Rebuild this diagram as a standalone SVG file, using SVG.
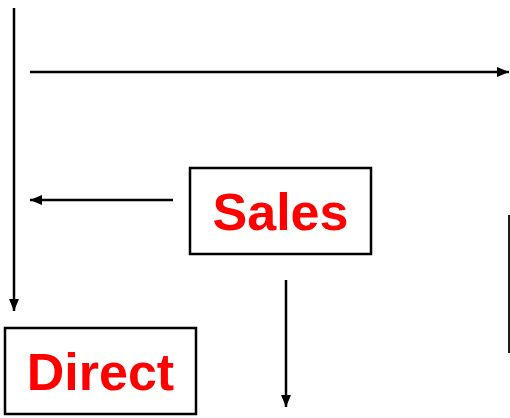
<svg xmlns="http://www.w3.org/2000/svg" width="510" height="418" viewBox="0 0 510 418">
<defs>
<style>
.ln{stroke:#000;stroke-width:2.5;fill:none}
.box{fill:#fff;stroke:#000;stroke-width:2.5}
.lbl{font-family:"Liberation Sans",Arial,sans-serif;font-weight:bold;font-size:52px;fill:#f00;text-anchor:middle}
</style>
<marker id="ah" viewBox="0 0 12 10" refX="12" refY="5" markerWidth="12" markerHeight="10" markerUnits="userSpaceOnUse" orient="auto">
<path d="M0,0 L12,5 L0,10 z" fill="#000"/>
</marker>
</defs>
<g id="connectors">
<line class="ln" x1="14" y1="8" x2="14" y2="311" marker-end="url(#ah)"/>
<line class="ln" x1="30" y1="72" x2="509" y2="72" marker-end="url(#ah)"/>
<line class="ln" x1="173" y1="200" x2="30" y2="200" marker-end="url(#ah)"/>
<line class="ln" x1="286" y1="280" x2="286" y2="407" marker-end="url(#ah)"/>
<line x1="509" y1="215" x2="509" y2="353" stroke="#000" stroke-width="1.8"/>
</g>
<g id="sales">
<rect class="box" x="190" y="168" width="181" height="86"/>
<text class="lbl" x="280.5" y="230">Sales</text>
</g>
<g id="direct">
<rect class="box" x="5" y="328" width="191" height="86"/>
<text class="lbl" x="100.5" y="390">Direct</text>
</g>
</svg>
